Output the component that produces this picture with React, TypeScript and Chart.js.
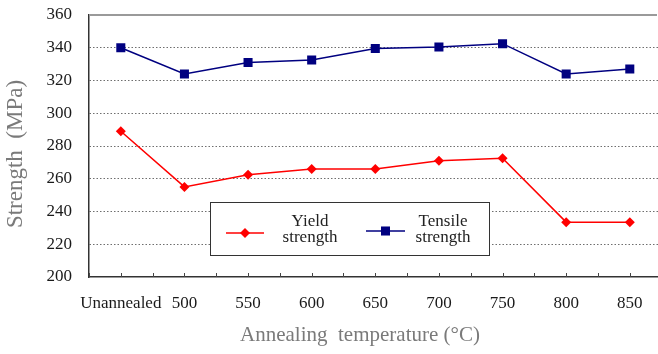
import React, { useEffect, useRef } from "react";
import { Chart, registerables } from "chart.js";
Chart.register(...registerables);

const categories = ["Unannealed", "500", "550", "600", "650", "700", "750", "800", "850"];
const yieldStrength = [289, 255, 262.5, 266, 266, 271, 272.5, 233.5, 233.5];
const tensileStrength = [340, 324, 331, 332.5, 339.5, 340.5, 342.5, 324, 327];
const yMin = 200;
const yMax = 360;
const yStep = 20;
const yTitle = "Strength\u00A0\u00A0(MPa)";
const xTitle = "Annealing\u00A0\u00A0temperature (\u00B0C)";
const legendLabels = [["Yield", "strength"], ["Tensile", "strength"]];

const RED = "#ff0000";
const NAVY = "#000080";
const SERIF = "'Liberation Serif', 'DejaVu Serif', serif";
const CANVAS_W = 668;

const decorPlugin = {
  id: "decor",
  afterDatasetsDraw(chart: any) {
    const { ctx, chartArea, scales } = chart;
    const xs = scales.x;
    ctx.save();
    // top border
    ctx.strokeStyle = "#9a9a9a";
    ctx.lineWidth = 2;
    ctx.beginPath();
    ctx.moveTo(chartArea.left, chartArea.top);
    ctx.lineTo(Math.min(chartArea.right, 657), chartArea.top);
    ctx.stroke();
    // minor ticks on x axis (inside)
    ctx.strokeStyle = "#444";
    ctx.lineWidth = 1;
    const n = categories.length;
    const half = (xs.getPixelForValue(1) - xs.getPixelForValue(0)) / 2;
    for (let i = 0; i < n; i++) {
      const c = xs.getPixelForValue(i);
      for (const px of [c - half, c]) {
        const xx = Math.round(px) + 0.5;
        ctx.beginPath();
        ctx.moveTo(xx, chartArea.bottom);
        ctx.lineTo(xx, chartArea.bottom - 4);
        ctx.stroke();
      }
    }
    // legend box
    const bx = 210, by = 202, bw = 279, bh = 53;
    ctx.fillStyle = "#fff";
    ctx.fillRect(bx, by, bw, bh);
    ctx.strokeStyle = "#333";
    ctx.lineWidth = 1;
    ctx.strokeRect(bx + 0.5, by + 0.5, bw, bh);
    const items = [
      { color: RED, style: "rectRot", r: 5, x1: 226, x2: 264, y: 233, tx: 310, labels: legendLabels[0] },
      { color: NAVY, style: "rect", r: 6.4, x1: 366, x2: 405, y: 231, tx: 443, labels: legendLabels[1] },
    ];
    for (const it of items) {
      ctx.strokeStyle = it.color;
      ctx.lineWidth = 1.5;
      ctx.beginPath();
      ctx.moveTo(it.x1, it.y);
      ctx.lineTo(it.x2, it.y);
      ctx.stroke();
      ctx.fillStyle = it.color;
      const cx = (it.x1 + it.x2) / 2;
      ctx.beginPath();
      if (it.style === "rect") {
        const s = it.r * Math.SQRT1_2;
        ctx.rect(cx - s, it.y - s, 2 * s, 2 * s);
      } else {
        ctx.moveTo(cx, it.y - it.r);
        ctx.lineTo(cx + it.r, it.y);
        ctx.lineTo(cx, it.y + it.r);
        ctx.lineTo(cx - it.r, it.y);
        ctx.closePath();
      }
      ctx.fill();
      ctx.fillStyle = "#222";
      ctx.font = "17px " + SERIF;
      ctx.textAlign = "center";
      ctx.textBaseline = "middle";
      ctx.fillText(it.labels[0], it.tx, 222);
      ctx.fillText(it.labels[1], it.tx, 238);
    }
    // axis titles
    ctx.fillStyle = "#7a7a7a";
    ctx.textAlign = "center";
    ctx.textBaseline = "middle";
    ctx.font = "21px " + SERIF;
    ctx.fillText(xTitle, 360, 335);
    ctx.translate(16, 154);
    ctx.rotate(-Math.PI / 2);
    ctx.font = "23px " + SERIF;
    ctx.fillText(yTitle, 0, 0);
    ctx.restore();
  },
};

export default function App() {
  const ref = useRef<HTMLCanvasElement | null>(null);
  useEffect(() => {
    if (!ref.current) return;
    const chart = new Chart(ref.current, {
      type: "line",
      data: {
        labels: categories,
        datasets: [
          {
            label: "Yield strength",
            data: yieldStrength,
            borderColor: RED,
            backgroundColor: RED,
            borderWidth: 1.5,
            pointStyle: "rectRot",
            pointRadius: 5,
            pointBorderWidth: 0,
            tension: 0,
          },
          {
            label: "Tensile strength",
            data: tensileStrength,
            borderColor: NAVY,
            backgroundColor: NAVY,
            borderWidth: 1.5,
            pointStyle: "rect",
            pointRadius: 6.4,
            pointBorderWidth: 0,
            tension: 0,
          },
        ],
      },
      options: {
        animation: false,
        responsive: false,
        maintainAspectRatio: false,
        layout: { padding: { top: 0, right: 0, left: 0, bottom: 0 } },
        plugins: { legend: { display: false }, tooltip: { enabled: false } },
        scales: {
          x: {
            type: "category",
            offset: true,
            afterFit: (s: any) => {
              s.height = 77;
              s.paddingLeft = 0;
              s.paddingRight = 0;
            },
            grid: { display: false, drawTicks: false },
            border: { display: true, color: "#333", width: 1.5 },
            ticks: {
              autoSkip: false,
              maxRotation: 0,
              minRotation: 0,
              padding: 16,
              color: "#1a1a1a",
              font: { family: SERIF, size: 17 },
            },
            title: { display: false },
          },
          y: {
            min: yMin,
            max: yMax,
            afterFit: (s: any) => {
              s.width = 89;
              s.paddingTop = 15;
              s.paddingBottom = 0;
              s.paddingLeft = 0;
              s.paddingRight = 0;
            },
            grid: {
              drawTicks: false,
              color: (c: any) =>
                c.tick && (c.tick.value === yMin || c.tick.value === yMax) ? "rgba(0,0,0,0)" : "#6e6e6e",
              lineWidth: 1,
            },
            border: { display: true, color: "#333", width: 1.5, dash: [1.5, 2] as any },
            ticks: {
              stepSize: yStep,
              padding: 17,
              color: "#1a1a1a",
              font: { family: SERIF, size: 17 },
            },
            title: { display: false },
          },
        },
      },
      plugins: [decorPlugin],
    });
    return () => chart.destroy();
  }, []);
  return (
    <div style={{ position: "fixed", left: 0, top: 0, width: 658, height: 354, background: "#fff", overflow: "hidden" }}>
      <canvas ref={ref} width={CANVAS_W} height={354} style={{ width: CANVAS_W, height: 354, display: "block" }} />
    </div>
  );
}
